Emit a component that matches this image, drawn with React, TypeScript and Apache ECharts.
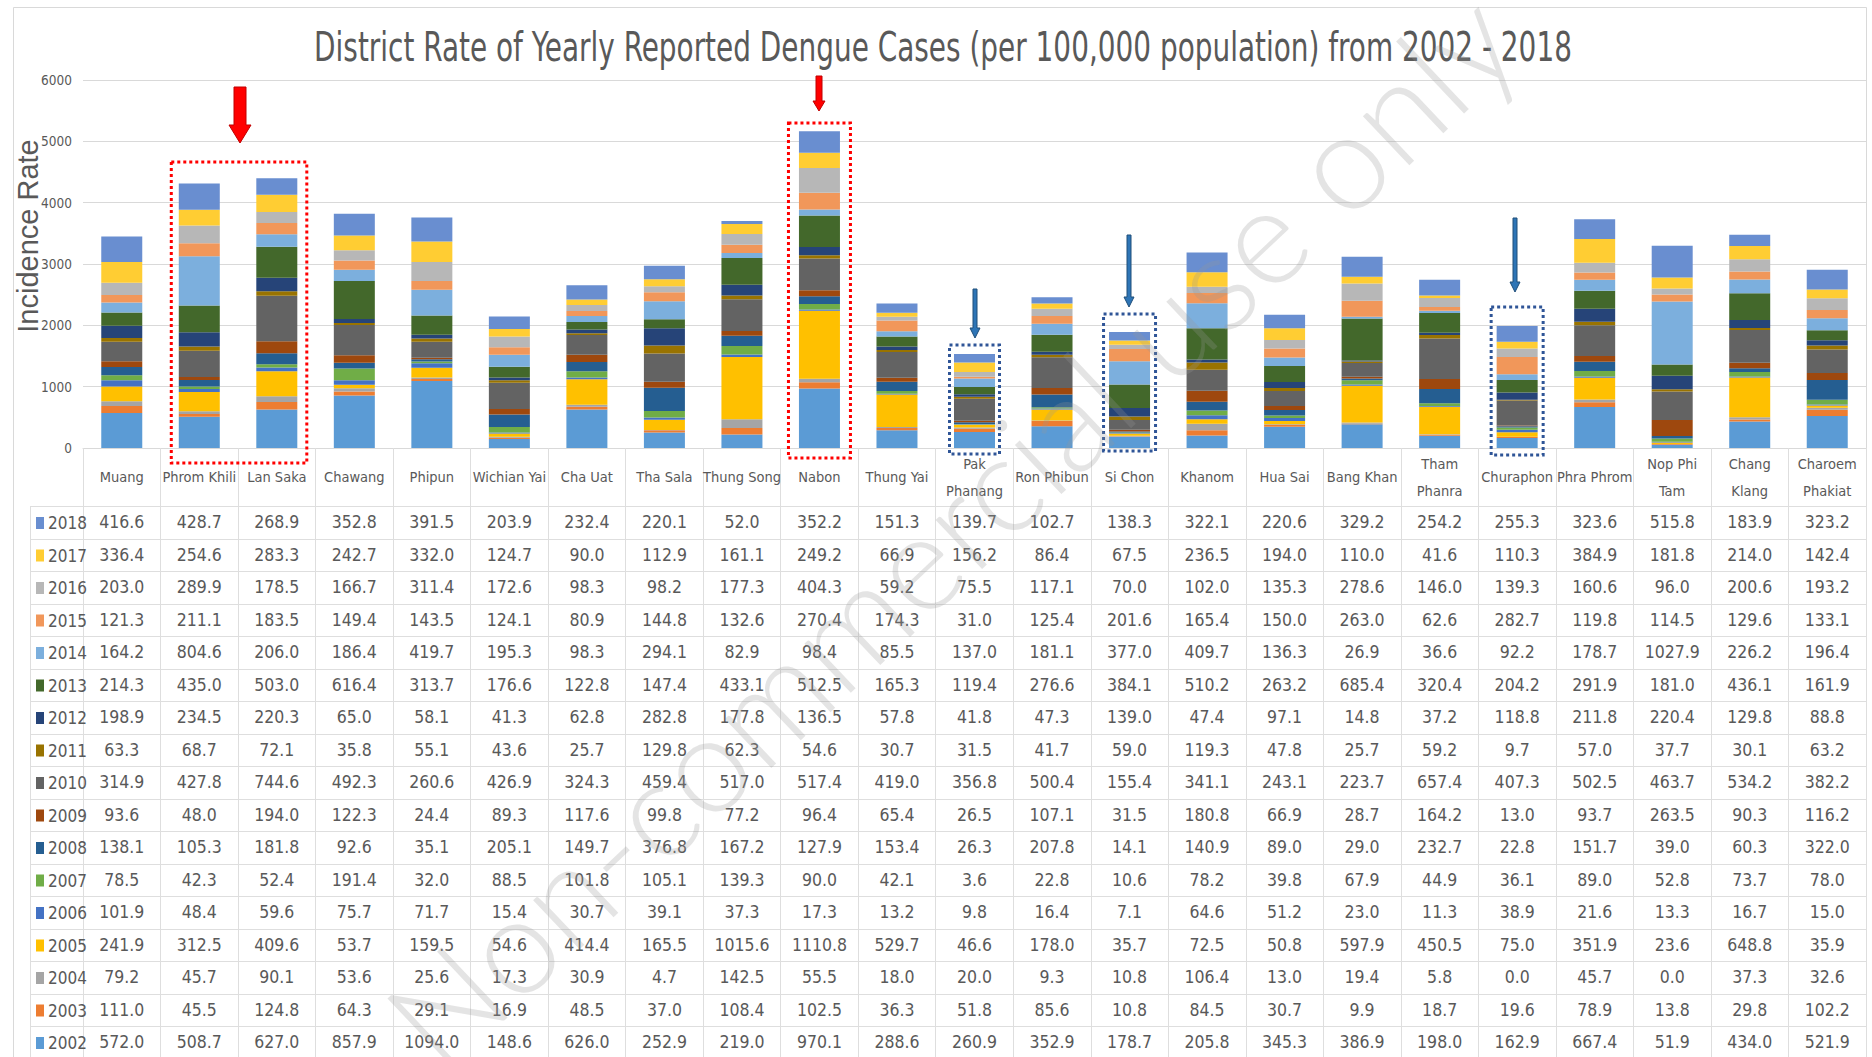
import React, { useEffect, useRef } from "react";
import * as echarts from "echarts";

const titleText = "District Rate of Yearly Reported Dengue Cases (per 100,000 population) from 2002 - 2018";
const axisTitle = "Incidence Rate";
const watermarkText = "Non-commercial use only";

const categories = [
  "Muang", "Phrom Khili", "Lan Saka", "Chawang", "Phipun", "Wichian Yai", "Cha Uat", "Tha Sala",
  "Thung Song", "Nabon", "Thung Yai", "Pak Phanang", "Ron Phibun", "Si Chon", "Khanom", "Hua Sai",
  "Bang Khan", "Tham Phanra", "Churaphon", "Phra Phrom", "Nop Phi Tam", "Chang Klang", "Charoem Phakiat",
];
const wrappedCategories = ["Pak Phanang", "Tham Phanra", "Nop Phi Tam", "Chang Klang", "Charoem Phakiat"];

const v2018 = [416.6, 428.7, 268.9, 352.8, 391.5, 203.9, 232.4, 220.1, 52.0, 352.2, 151.3, 139.7, 102.7, 138.3, 322.1, 220.6, 329.2, 254.2, 255.3, 323.6, 515.8, 183.9, 323.2];
const v2017 = [336.4, 254.6, 283.3, 242.7, 332.0, 124.7, 90.0, 112.9, 161.1, 249.2, 66.9, 156.2, 86.4, 67.5, 236.5, 194.0, 110.0, 41.6, 110.3, 384.9, 181.8, 214.0, 142.4];
const v2016 = [203.0, 289.9, 178.5, 166.7, 311.4, 172.6, 98.3, 98.2, 177.3, 404.3, 59.2, 75.5, 117.1, 70.0, 102.0, 135.3, 278.6, 146.0, 139.3, 160.6, 96.0, 200.6, 193.2];
const v2015 = [121.3, 211.1, 183.5, 149.4, 143.5, 124.1, 80.9, 144.8, 132.6, 270.4, 174.3, 31.0, 125.4, 201.6, 165.4, 150.0, 263.0, 62.6, 282.7, 119.8, 114.5, 129.6, 133.1];
const v2014 = [164.2, 804.6, 206.0, 186.4, 419.7, 195.3, 98.3, 294.1, 82.9, 98.4, 85.5, 137.0, 181.1, 377.0, 409.7, 136.3, 26.9, 36.6, 92.2, 178.7, 1027.9, 226.2, 196.4];
const v2013 = [214.3, 435.0, 503.0, 616.4, 313.7, 176.6, 122.8, 147.4, 433.1, 512.5, 165.3, 119.4, 276.6, 384.1, 510.2, 263.2, 685.4, 320.4, 204.2, 291.9, 181.0, 436.1, 161.9];
const v2012 = [198.9, 234.5, 220.3, 65.0, 58.1, 41.3, 62.8, 282.8, 177.8, 136.5, 57.8, 41.8, 47.3, 139.0, 47.4, 97.1, 14.8, 37.2, 118.8, 211.8, 220.4, 129.8, 88.8];
const v2011 = [63.3, 68.7, 72.1, 35.8, 55.1, 43.6, 25.7, 129.8, 62.3, 54.6, 30.7, 31.5, 41.7, 59.0, 119.3, 47.8, 25.7, 59.2, 9.7, 57.0, 37.7, 30.1, 63.2];
const v2010 = [314.9, 427.8, 744.6, 492.3, 260.6, 426.9, 324.3, 459.4, 517.0, 517.4, 419.0, 356.8, 500.4, 155.4, 341.1, 243.1, 223.7, 657.4, 407.3, 502.5, 463.7, 534.2, 382.2];
const v2009 = [93.6, 48.0, 194.0, 122.3, 24.4, 89.3, 117.6, 99.8, 77.2, 96.4, 65.4, 26.5, 107.1, 31.5, 180.8, 66.9, 28.7, 164.2, 13.0, 93.7, 263.5, 90.3, 116.2];
const v2008 = [138.1, 105.3, 181.8, 92.6, 35.1, 205.1, 149.7, 376.8, 167.2, 127.9, 153.4, 26.3, 207.8, 14.1, 140.9, 89.0, 29.0, 232.7, 22.8, 151.7, 39.0, 60.3, 322.0];
const v2007 = [78.5, 42.3, 52.4, 191.4, 32.0, 88.5, 101.8, 105.1, 139.3, 90.0, 42.1, 3.6, 22.8, 10.6, 78.2, 39.8, 67.9, 44.9, 36.1, 89.0, 52.8, 73.7, 78.0];
const v2006 = [101.9, 48.4, 59.6, 75.7, 71.7, 15.4, 30.7, 39.1, 37.3, 17.3, 13.2, 9.8, 16.4, 7.1, 64.6, 51.2, 23.0, 11.3, 38.9, 21.6, 13.3, 16.7, 15.0];
const v2005 = [241.9, 312.5, 409.6, 53.7, 159.5, 54.6, 414.4, 165.5, 1015.6, 1110.8, 529.7, 46.6, 178.0, 35.7, 72.5, 50.8, 597.9, 450.5, 75.0, 351.9, 23.6, 648.8, 35.9];
const v2004 = [79.2, 45.7, 90.1, 53.6, 25.6, 17.3, 30.9, 4.7, 142.5, 55.5, 18.0, 20.0, 9.3, 10.8, 106.4, 13.0, 19.4, 5.8, 0.0, 45.7, 0.0, 37.3, 32.6];
const v2003 = [111.0, 45.5, 124.8, 64.3, 29.1, 16.9, 48.5, 37.0, 108.4, 102.5, 36.3, 51.8, 85.6, 10.8, 84.5, 30.7, 9.9, 18.7, 19.6, 78.9, 13.8, 29.8, 102.2];
const v2002 = [572.0, 508.7, 627.0, 857.9, 1094.0, 148.6, 626.0, 252.9, 219.0, 970.1, 288.6, 260.9, 352.9, 178.7, 205.8, 345.3, 386.9, 198.0, 162.9, 667.4, 51.9, 434.0, 521.9];

// stacking order: bottom (2002) to top (2018)
const years = ["2002", "2003", "2004", "2005", "2006", "2007", "2008", "2009", "2010", "2011", "2012", "2013", "2014", "2015", "2016", "2017", "2018"];
const yearValues = [v2002, v2003, v2004, v2005, v2006, v2007, v2008, v2009, v2010, v2011, v2012, v2013, v2014, v2015, v2016, v2017, v2018];

const yMin = 0;
const yMax = 6000;
const yStep = 1000;

// styling
const yearColors = [
  "#5B9BD5", "#ED7D31", "#A5A5A5", "#FFC000", "#4472C4", "#70AD47", "#255E91", "#9E480E",
  "#636363", "#997300", "#264478", "#43682B", "#7CAFDD", "#F1975A", "#B7B7B7", "#FFCD33", "#698ED0",
];
const NARROW = "'Liberation Sans Narrow', 'Arial Narrow', 'DejaVu Sans Condensed', sans-serif";
const TEXT = "#595959";
const LINE = "#dedede";

const W = 1872;
const H = 1057;
const GRID_LEFT = 83;
const GRID_RIGHT_X = 1866;
const GRID_TOP = 80;
const AXIS_Y = 448;
const TABLE_TOP = 506;
const ROW_H = 32.5;
const TABLE_LEFT = 30;

function arrowPoints(cx: number, y0: number, y1: number, shaftW: number, headW: number, headH: number) {
  const yh = y1 - headH;
  return [
    [cx - shaftW / 2, y0], [cx + shaftW / 2, y0], [cx + shaftW / 2, yh], [cx + headW / 2, yh],
    [cx, y1], [cx - headW / 2, yh], [cx - shaftW / 2, yh],
  ];
}

export default function App() {
  const ref = useRef<HTMLDivElement>(null);

  useEffect(() => {
    if (!ref.current) return;
    document.body.style.margin = "0";
    const chart = echarts.init(ref.current, undefined, { renderer: "svg", width: W, height: H });

    const series = years.map((y, i) => ({
      name: y,
      type: "bar",
      stack: "total",
      barWidth: 41,
      data: yearValues[i],
      itemStyle: { color: yearColors[i] },
      emphasis: { disabled: true },
    }));

    chart.setOption({
      animation: false,
      backgroundColor: "#ffffff",
      legend: {
        data: years.slice().reverse(),
        orient: "vertical",
        left: 36,
        top: TABLE_TOP + 7,
        padding: 0,
        itemWidth: 8,
        itemHeight: 12,
        itemGap: 12.5,
        icon: "rect",
        textStyle: { color: TEXT, fontSize: 17, fontFamily: NARROW, lineHeight: 20, padding: [0, 0, 0, -1] },
      },
      grid: { left: GRID_LEFT, right: W - GRID_RIGHT_X, top: GRID_TOP, bottom: H - AXIS_Y, containLabel: false },
      xAxis: {
        type: "category",
        data: categories,
        axisLine: { show: true, lineStyle: { color: "#d9d9d9", width: 1 } },
        axisTick: { show: true, length: H - AXIS_Y, interval: 0, alignWithLabel: false, lineStyle: { color: LINE, width: 1 } },
        axisLabel: {
          interval: 0,
          margin: 29,
          verticalAlign: "middle",
          color: TEXT,
          fontSize: 14.5,
          lineHeight: 27,
          fontFamily: NARROW,
          formatter: (v: string) => {
            if (wrappedCategories.includes(v)) {
              const k = v.lastIndexOf(" ");
              return v.slice(0, k) + "\n" + v.slice(k + 1);
            }
            return v;
          },
        },
      },
      yAxis: {
        type: "value",
        min: yMin,
        max: yMax,
        interval: yStep,
        axisLine: { show: false },
        axisTick: { show: false },
        axisLabel: { color: TEXT, fontSize: 13.5, fontFamily: NARROW, margin: 11, formatter: (v: number) => String(v) },
        splitLine: { lineStyle: { color: "#d9d9d9", width: 1 } },
      },
      series,
    });

    // Build table and annotations using the axis positions
    const colX = categories.map((_, i) => chart.convertToPixel({ xAxisIndex: 0 }, i) as number);
    const axisY = chart.convertToPixel({ yAxisIndex: 0 }, 0) as number;
    const tableTop = axisY + (TABLE_TOP - AXIS_Y);
    const rowsTopDown = years.slice().reverse();
    const valuesTopDown = yearValues.slice().reverse();

    const graphics: any[] = [];
    // outer frame
    graphics.push({
      type: "rect", silent: true, z: 0,
      shape: { x: 13.5, y: 7.5, width: GRID_RIGHT_X - 13, height: H },
      style: { fill: "none", stroke: "#d9d9d9", lineWidth: 1 },
    });
    // title (condensed)
    graphics.push({
      type: "text", silent: true, z: 5,
      x: 943, y: 47, scaleX: 0.776,
      style: {
        text: titleText, fill: TEXT, fontSize: 40, fontFamily: NARROW,
        align: "center", verticalAlign: "middle", textAlign: "center", textVerticalAlign: "middle",
      },
    });
    // table horizontal lines
    for (let r = 0; r <= rowsTopDown.length; r++) {
      const y = Math.round(tableTop + r * ROW_H) + 0.5;
      graphics.push({
        type: "line", silent: true, z: 1,
        shape: { x1: TABLE_LEFT, y1: y, x2: GRID_RIGHT_X, y2: y },
        style: { stroke: LINE, lineWidth: 1 },
      });
    }
    graphics.push({
      type: "line", silent: true, z: 1,
      shape: { x1: TABLE_LEFT + 0.5, y1: tableTop, x2: TABLE_LEFT + 0.5, y2: H },
      style: { stroke: LINE, lineWidth: 1 },
    });
    // table values
    rowsTopDown.forEach((_, r) => {
      const yc = tableTop + r * ROW_H + ROW_H / 2;
      valuesTopDown[r].forEach((v, c) => {
        graphics.push({
          type: "text", silent: true, z: 5,
          x: colX[c], y: yc,
          style: {
            text: v.toFixed(1), fill: TEXT, fontSize: 17.5, fontFamily: NARROW,
            align: "center", verticalAlign: "middle", textAlign: "center", textVerticalAlign: "middle",
          },
        });
      });
    });
    // axis title
    graphics.push({
      type: "text", silent: true, z: 5,
      x: 28, y: 236, rotation: Math.PI / 2,
      style: {
        text: axisTitle, fill: TEXT, fontSize: 29, fontFamily: "'Liberation Sans', Arial, sans-serif",
        align: "center", verticalAlign: "middle", textAlign: "center", textVerticalAlign: "middle",
      },
    });

    // dotted boxes
    const box = (x0: number, x1: number, y0: number, y1: number, color: string) => ({
      type: "rect", silent: true, z: 20,
      shape: { x: x0, y: y0, width: x1 - x0, height: y1 - y0 },
      style: { fill: "none", stroke: color, lineWidth: 3, lineDash: [3, 3] },
    });
    const RED = "#FF0000";
    const BLUE = "#2F5597";
    graphics.push(box(colX[1] - 28, colX[2] + 30, 162, 463, RED));
    graphics.push(box(colX[9] - 31, colX[9] + 31, 123, 458, RED));
    graphics.push(box(colX[11] - 25, colX[11] + 25, 345, 454, BLUE));
    graphics.push(box(colX[13] - 26, colX[13] + 26, 314, 451, BLUE));
    graphics.push(box(colX[18] - 26, colX[18] + 26, 307, 455, BLUE));

    // arrows
    const arrow = (pts: number[][], fill: string, stroke: string) => ({
      type: "polygon", silent: true, z: 21,
      shape: { points: pts },
      style: { fill, stroke, lineWidth: 1 },
    });
    graphics.push(arrow(arrowPoints(240, 87, 143, 12, 22, 18), "#FF0000", "#C00000"));
    graphics.push(arrow(arrowPoints(819, 76, 111, 6, 12, 10), "#FF0000", "#C00000"));
    graphics.push(arrow(arrowPoints(975, 289, 338, 4, 10, 10), "#2E75B6", "#1F4E79"));
    graphics.push(arrow(arrowPoints(1129, 235, 307, 4, 10, 10), "#2E75B6", "#1F4E79"));
    graphics.push(arrow(arrowPoints(1515, 218, 292, 4, 10, 10), "#2E75B6", "#1F4E79"));

    // watermark
    graphics.push({
      type: "text", silent: true, z: 30,
      x: 949, y: 528, rotation: 0.757,
      style: {
        text: watermarkText, fill: "rgba(150,150,150,0.26)", fontSize: 136, fontWeight: 300,
        fontFamily: "Lato, 'Open Sans', sans-serif",
        align: "center", verticalAlign: "middle", textAlign: "center", textVerticalAlign: "middle",
      },
    });

    chart.setOption({ graphic: { elements: graphics } });

    return () => chart.dispose();
  }, []);

  return <div ref={ref} style={{ position: "fixed", left: 0, top: 0, width: W, height: H }} />;
}
